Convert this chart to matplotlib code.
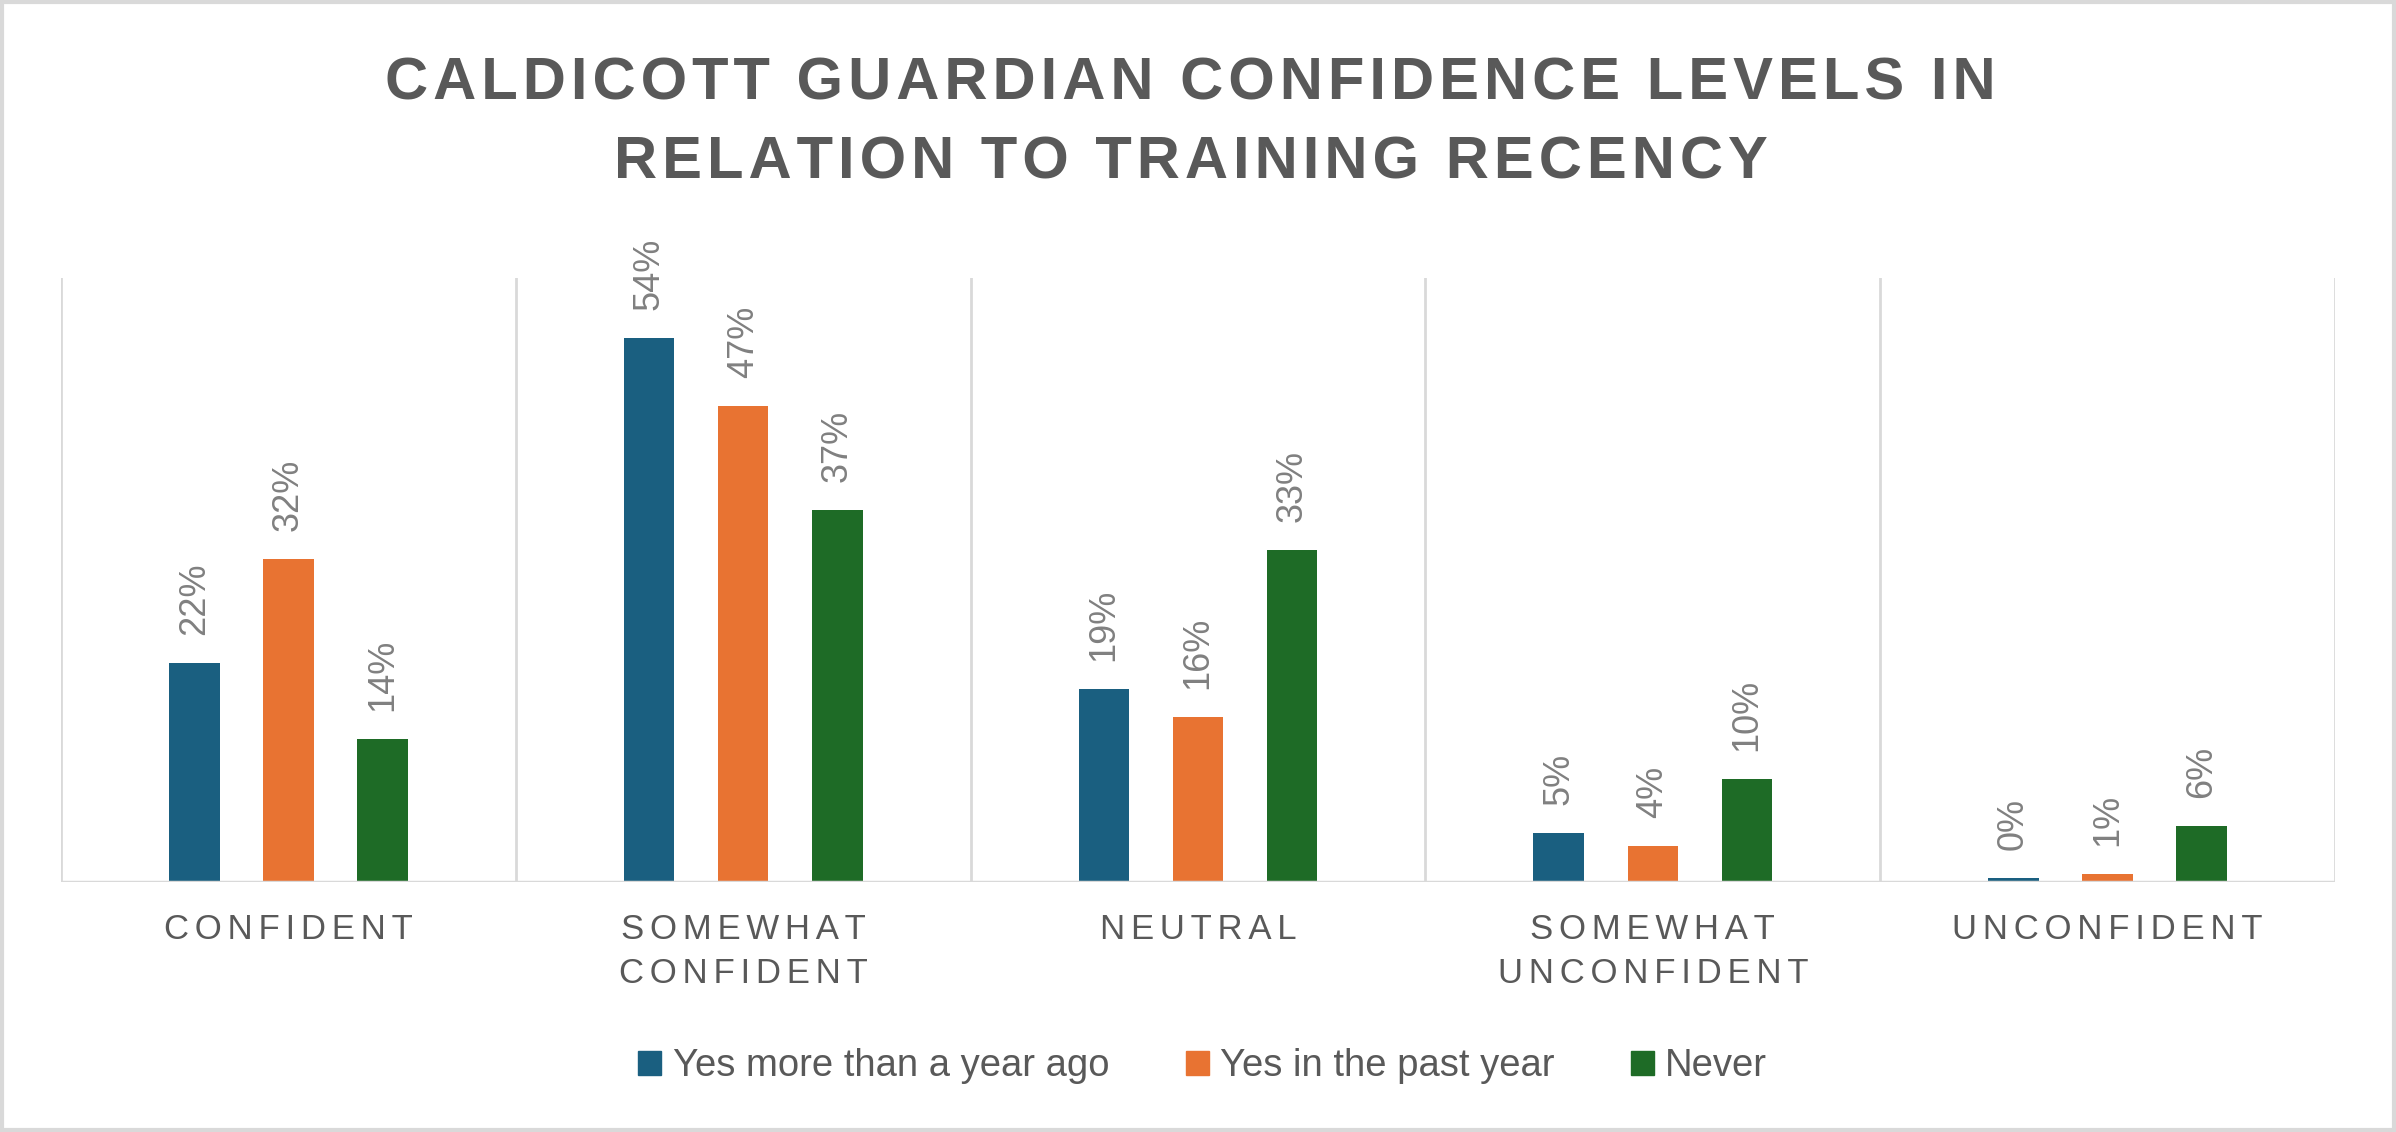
import numpy as np
import matplotlib.pyplot as plt
from matplotlib.patches import Rectangle

# categories and series
categories = ["CONFIDENT", "SOMEWHAT\nCONFIDENT", "NEUTRAL", "SOMEWHAT\nUNCONFIDENT", "UNCONFIDENT"]
series_names = ["Yes more than a year ago", "Yes in the past year", "Never"]
more_than_year = [21.8, 54.1, 19.2, 4.9, 0.4]
past_year = [32.1, 47.3, 16.4, 3.6, 0.8]
never = [14.2, 37.0, 33.0, 10.2, 5.6]
colors = ["#1a5f80", "#e87332", "#1e6b26"]

title = "CALDICOTT GUARDIAN CONFIDENCE LEVELS IN\nRELATION TO TRAINING RECENCY"
grey = "#595959"
grid_col = "#d9d9d9"


def spaced(s, sep=" "):
    # fake letter spacing, keep line breaks
    return "\n".join(sep.join(line) for line in s.split("\n"))


plt.rcParams['font.family'] = ['Liberation Sans', 'DejaVu Sans']

fig = plt.figure(figsize=(23.96, 11.32), dpi=100)
ax = fig.add_axes([0.0255, 0.221, 0.949, 0.533])

x = np.arange(len(categories))
w = 0.111
off = 0.207
for i, vals in enumerate([more_than_year, past_year, never]):
    bars = ax.bar(x + (i - 1) * off, vals, width=w, color=colors[i], label=series_names[i])
    for b, v in zip(bars, vals):
        ax.annotate(f"{v:.0f}%", (b.get_x() + b.get_width() / 2, b.get_height()),
                    xytext=(0, 20), textcoords="offset points", rotation=90,
                    ha="center", va="bottom", fontsize=26, color="#808080")

for gx in np.arange(-0.5, len(categories), 1.0):
    ax.axvline(gx, color=grid_col, lw=2, zorder=0)
ax.axhline(0, color=grid_col, lw=2.5, zorder=3)

ax.set_xlim(-0.5, len(categories) - 0.5)
ax.set_ylim(0, 60)
ax.set_yticks([])
ax.set_xticks([])
for s in ax.spines.values():
    s.set_visible(False)

# category labels under each group
for xi, c in zip(x, categories):
    ax.text(xi, -0.052, spaced(c, "\u2006"), transform=ax.get_xaxis_transform(),
            ha="center", va="top", fontsize=25, color=grey, linespacing=1.43)

fig.text(0.497, 0.891, spaced(title, "\u200a"), ha="center", va="center",
         fontsize=43, fontweight="bold", color=grey, linespacing=1.57)

handles = [Rectangle((0, 0), 1, 1, color=c) for c in colors]
fig.legend(handles, series_names, loc="center", bbox_to_anchor=(0.502, 0.058), ncol=3,
           frameon=False, fontsize=27.5, labelcolor=grey, handlelength=0.6,
           handleheight=0.6, handletextpad=0.3, columnspacing=2.0)

# light border around the whole chart
fig.patches.append(Rectangle((0.001, 0.002), 0.998, 0.996, transform=fig.transFigure,
                             fill=False, edgecolor=grid_col, lw=3))

fig.savefig("out.png", dpi=100, facecolor="white")
